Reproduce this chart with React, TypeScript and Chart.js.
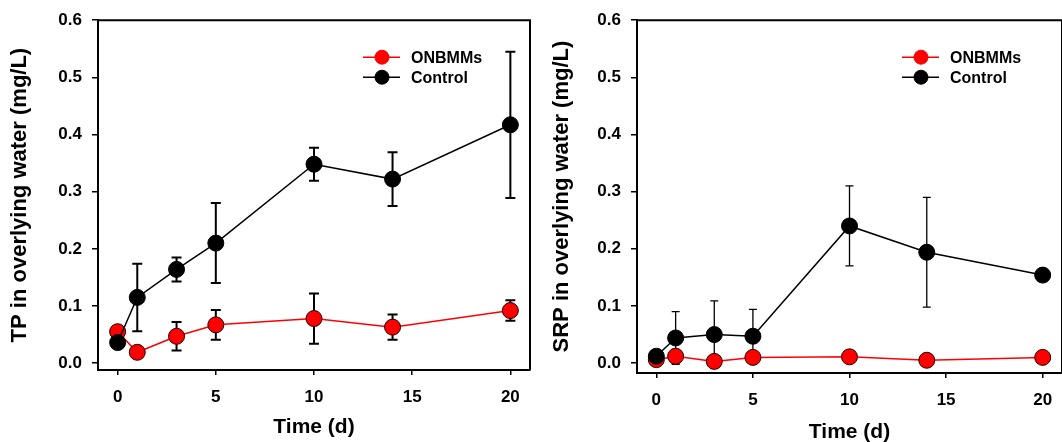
import React, { useEffect, useRef } from "react";
import { Chart, registerables } from "chart.js";

Chart.register(...registerables);

// ---------- data ----------
const days = [0, 1, 3, 5, 10, 14, 20];
const xTickValues = [0, 5, 10, 15, 20];
const yTickValues = [0, 0.1, 0.2, 0.3, 0.4, 0.5, 0.6];
const seriesNames = ["ONBMMs", "Control"];

const tpOnbmms = [0.055, 0.019, 0.047, 0.067, 0.078, 0.063, 0.092];
const tpOnbmmsErr = [0.003, 0.008, 0.025, 0.026, 0.044, 0.022, 0.018];
const tpControl = [0.036, 0.115, 0.164, 0.21, 0.348, 0.322, 0.417];
const tpControlErr = [0.004, 0.059, 0.021, 0.07, 0.029, 0.047, 0.128];

const srpOnbmms = [0.006, 0.012, 0.003, 0.01, 0.011, 0.005, 0.01];
const srpOnbmmsErr = [0.002, 0.012, 0.005, 0.004, 0.004, 0.002, 0.003];
const srpControl = [0.012, 0.044, 0.05, 0.047, 0.24, 0.194, 0.154];
const srpControlErr = [0.004, 0.046, 0.059, 0.047, 0.07, 0.096, 0.01];

const FONT = "Arial, 'Liberation Sans', Helvetica, sans-serif";
const RED = "#ff0000";
const BLACK = "#000000";

// ---------- plugins ----------
const errorBarPlugin = {
  id: "errorBars",
  beforeDatasetsDraw(chart: any, _args: any, opts: any) {
    const { ctx, scales } = chart;
    const x = scales.x;
    const y = scales.y;
    ctx.save();
    ctx.strokeStyle = BLACK;
    ctx.lineWidth = opts.lineWidth || 1.5;
    const cap = opts.cap || 5;
    chart.data.datasets.forEach((ds: any) => {
      ds.data.forEach((p: any, i: number) => {
        const e = ds.errors[i];
        const px = x.getPixelForValue(p.x);
        const top = y.getPixelForValue(p.y + e);
        const bot = y.getPixelForValue(p.y - e);
        ctx.beginPath();
        ctx.moveTo(px, top);
        ctx.lineTo(px, bot);
        ctx.moveTo(px - cap, top);
        ctx.lineTo(px + cap, top);
        ctx.moveTo(px - cap, bot);
        ctx.lineTo(px + cap, bot);
        ctx.stroke();
      });
    });
    ctx.restore();
  },
};

const framePlugin = {
  id: "frame",
  afterDraw(chart: any, _args: any, opts: any) {
    const { ctx, chartArea } = chart;
    ctx.save();
    ctx.strokeStyle = BLACK;
    ctx.lineWidth = opts.lineWidth || 2;
    ctx.beginPath();
    ctx.moveTo(chartArea.left, chartArea.top);
    ctx.lineTo(chartArea.right, chartArea.top);
    ctx.lineTo(chartArea.right, chartArea.bottom);
    ctx.stroke();
    ctx.restore();
  },
};

const legendPlugin = {
  id: "customLegend",
  afterDraw(chart: any) {
    const { ctx, chartArea } = chart;
    const entries = [
      { name: seriesNames[0], color: RED },
      { name: seriesNames[1], color: BLACK },
    ];
    ctx.save();
    entries.forEach((en, i) => {
      const yy = chartArea.top + 37 + i * 20;
      const x0 = chartArea.left + 265;
      ctx.strokeStyle = en.color;
      ctx.lineWidth = 1.5;
      ctx.beginPath();
      ctx.moveTo(x0, yy);
      ctx.lineTo(x0 + 37, yy);
      ctx.stroke();
      ctx.beginPath();
      ctx.arc(x0 + 19, yy, 7, 0, Math.PI * 2);
      ctx.fillStyle = en.color;
      ctx.fill();
      ctx.strokeStyle = en.color;
      ctx.lineWidth = 1;
      ctx.stroke();
      ctx.fillStyle = BLACK;
      ctx.font = `bold 16px ${FONT}`;
      ctx.textBaseline = "middle";
      ctx.textAlign = "left";
      ctx.fillText(en.name, chartArea.left + 313, yy + 1);
    });
    ctx.restore();
  },
};

// ---------- panel ----------
type PanelProps = {
  left: number;
  width: number;
  height: number;
  yTitle: string;
  red: number[];
  redErr: number[];
  black: number[];
  blackErr: number[];
  yAxisWidth: number;
  xAxisHeight: number;
  padRight: number;
  yMin: number;
  yTitlePad: number;
  xTitlePad: number;
  errWidth: number;
  errCap: number;
};

function Panel(p: PanelProps) {
  const ref = useRef<HTMLCanvasElement>(null);
  useEffect(() => {
    if (!ref.current) return;
    const tickFont = { family: FONT, size: 17, weight: "bold" as const };
    const titleFont = { family: FONT, size: 21, weight: "bold" as const };
    const chart = new Chart(ref.current, {
      type: "line",
      data: {
        datasets: [
          {
            label: seriesNames[1],
            data: days.map((d, i) => ({ x: d, y: p.black[i] })),
            borderColor: BLACK,
            backgroundColor: BLACK,
            borderWidth: 1.5,
            pointRadius: 8,
            pointBackgroundColor: BLACK,
            pointBorderColor: BLACK,
            pointBorderWidth: 1,
            errors: p.blackErr,
          } as any,
          {
            label: seriesNames[0],
            data: days.map((d, i) => ({ x: d, y: p.red[i] })),
            borderColor: RED,
            backgroundColor: RED,
            borderWidth: 1.5,
            pointRadius: 8,
            pointBackgroundColor: RED,
            pointBorderColor: "#200000",
            pointBorderWidth: 1,
            errors: p.redErr,
          } as any,
        ],
      },
      options: {
        animation: false,
        responsive: false,
        devicePixelRatio: 1,
        layout: { padding: { top: 16, right: p.padRight, left: 0, bottom: 0 } },
        plugins: {
          legend: { display: false },
          tooltip: { enabled: false },
          errorBars: { lineWidth: p.errWidth, cap: p.errCap },
          frame: { lineWidth: 2 },
        } as any,
        scales: {
          x: {
            type: "linear",
            min: -1,
            max: 21,
            afterBuildTicks: (s: any) => {
              s.ticks = xTickValues.map((v) => ({ value: v }));
            },
            afterFit: (s: any) => {
              s.height = p.xAxisHeight;
            },
            grid: {
              drawOnChartArea: false,
              tickLength: 5,
              color: BLACK,
              lineWidth: 1.5,
            },
            border: { display: true, color: BLACK, width: 2 },
            ticks: {
              color: BLACK,
              font: tickFont,
              padding: 12,
              autoSkip: false,
              maxRotation: 0,
              callback: (v: any) => String(v),
            },
            title: {
              display: true,
              text: "Time (d)",
              color: BLACK,
              font: titleFont,
              padding: { top: 0, bottom: p.xTitlePad },
            },
          },
          y: {
            type: "linear",
            min: p.yMin,
            max: 0.6,
            afterBuildTicks: (s: any) => {
              s.ticks = yTickValues.map((v) => ({ value: v }));
            },
            afterFit: (s: any) => {
              s.width = p.yAxisWidth;
            },
            grid: {
              drawOnChartArea: false,
              tickLength: 6,
              color: BLACK,
              lineWidth: 1.5,
            },
            border: { display: true, color: BLACK, width: 2 },
            ticks: {
              color: BLACK,
              font: tickFont,
              padding: 10,
              autoSkip: false,
              callback: (v: any) => Number(v).toFixed(1),
            },
            title: {
              display: true,
              text: p.yTitle,
              color: BLACK,
              font: { family: FONT, size: 22, weight: "bold" as const },
              padding: { top: p.yTitlePad, bottom: 0 },
            },
          },
        },
      },
      plugins: [errorBarPlugin, framePlugin, legendPlugin],
    });
    return () => chart.destroy();
  }, []);
  return (
    <div style={{ position: "absolute", left: p.left, top: 0, width: p.width, height: p.height }}>
      <canvas ref={ref} width={p.width} height={p.height} style={{ display: "block" }} />
    </div>
  );
}

export default function App() {
  return (
    <div
      style={{
        position: "fixed",
        left: 0,
        top: 0,
        width: 1062,
        height: 442,
        overflow: "hidden",
        background: "#ffffff",
      }}
    >
      <Panel
        left={0}
        width={540}
        height={442}
        yTitle="TP in overlying water (mg/L)"
        red={tpOnbmms}
        redErr={tpOnbmmsErr}
        black={tpControl}
        blackErr={tpControlErr}
        yAxisWidth={98}
        xAxisHeight={72}
        padRight={10}
        yMin={-0.012}
        yTitlePad={7}
        xTitlePad={2}
        errWidth={2}
        errCap={5}
      />
      <Panel
        left={531}
        width={540}
        height={442}
        yTitle="SRP in overlying water (mg/L)"
        red={srpOnbmms}
        redErr={srpOnbmmsErr}
        black={srpControl}
        blackErr={srpControlErr}
        yAxisWidth={106}
        xAxisHeight={69}
        padRight={3}
        yMin={-0.0173}
        yTitlePad={18}
        xTitlePad={-3}
        errWidth={1.3}
        errCap={4}
      />
    </div>
  );
}
